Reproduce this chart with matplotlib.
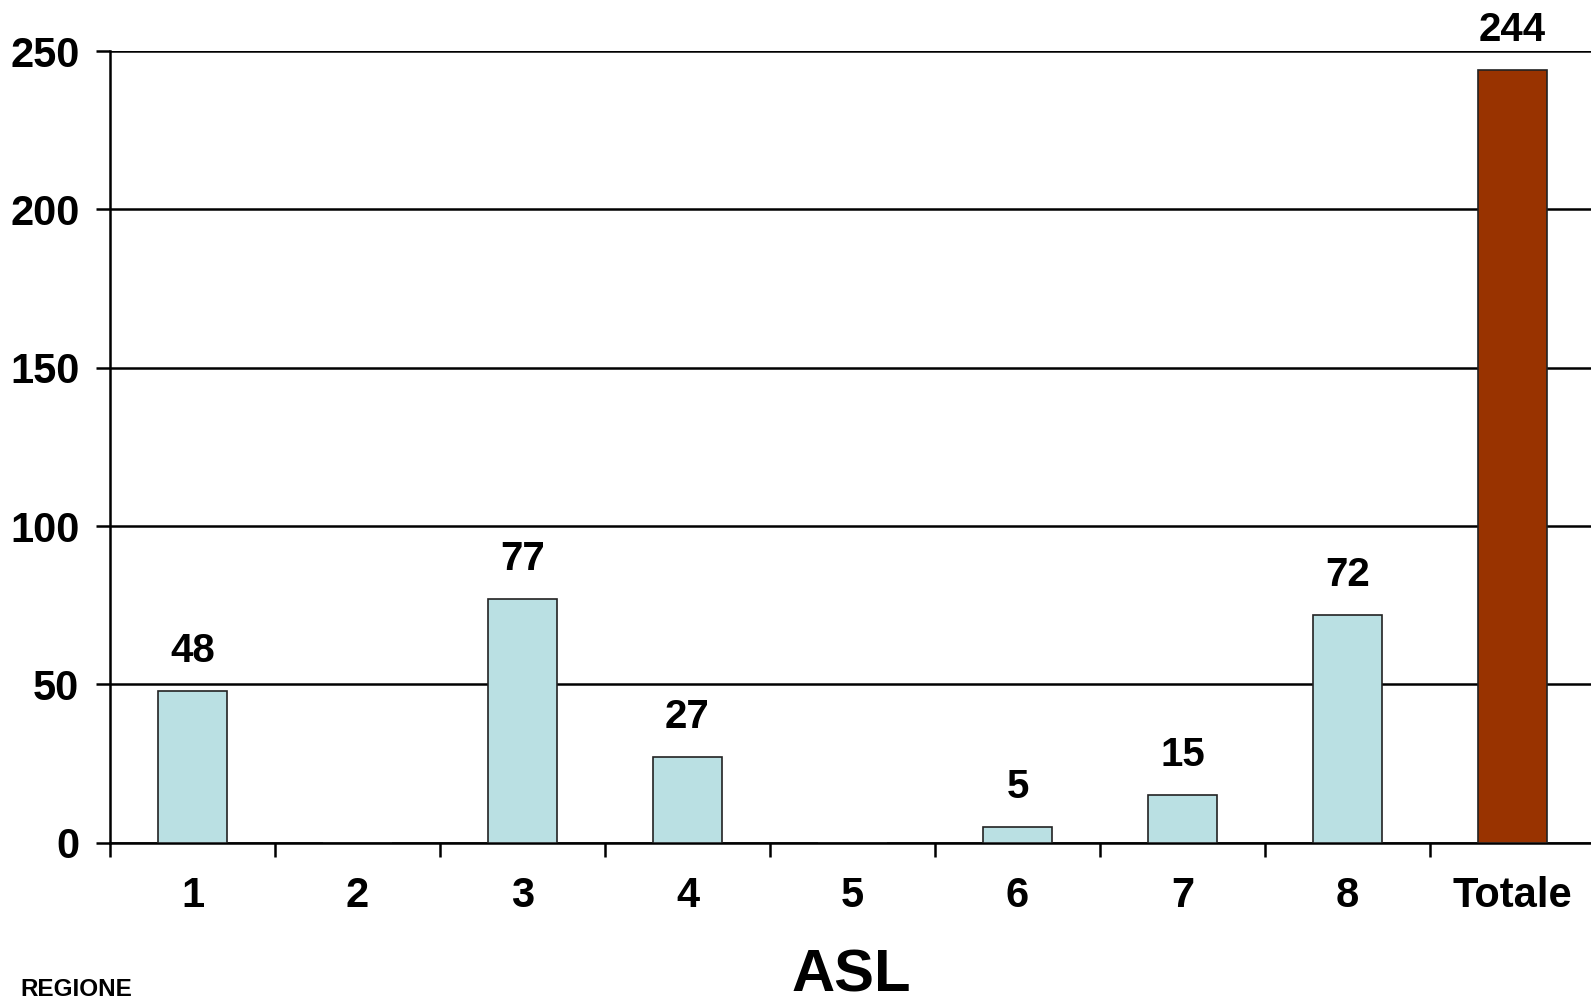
import numpy as np
import matplotlib
matplotlib.use('Agg')
import matplotlib.pyplot as plt

# Data
categories = ['1', '2', '3', '4', '5', '6', '7', '8', 'Totale']
values = [48, 0, 77, 27, 0, 5, 15, 72, 244]
bar_colors = ['#BAE0E3'] * 8 + ['#993300']
y_ticks = [0, 50, 100, 150, 200, 250]

plt.rcParams['font.family'] = ['Liberation Sans', 'DejaVu Sans']
plt.rcParams['font.weight'] = 'bold'

fig = plt.figure(figsize=(15.91, 10.06), dpi=100)
ax = fig.add_axes([0.0691, 0.1623, 0.9309, 0.7870])

x = np.arange(len(categories))
ax.bar(x, values, width=0.415, color=bar_colors, edgecolor='#222222',
       linewidth=1.2, zorder=3)

# value labels (zero bars are left unlabelled)
for xi, v in zip(x, values):
    if v > 0:
        ax.annotate(str(v), (xi, v), xytext=(0, 15), textcoords='offset points',
                    ha='center', va='bottom', fontsize=29, fontweight='bold')

ax.set_ylim(0, 250)
ax.set_xlim(-0.5, -0.5 + (1591 - 110) / 165)
ax.set_yticks(y_ticks)
ax.set_xticks(x)
ax.set_xticklabels(categories)

# category separators as minor ticks
ax.set_xticks(np.arange(-0.5, len(categories) - 0.5, 1), minor=True)
ax.tick_params(axis='x', which='major', length=0, pad=24, labelsize=30)
ax.tick_params(axis='x', which='minor', length=10, width=1.8, direction='out')
ax.tick_params(axis='y', length=10, width=1.8, pad=12, labelsize=30)

ax.grid(axis='y', color='black', linewidth=1.8, zorder=0)
for s in ['top', 'right']:
    ax.spines[s].set_visible(False)
ax.spines['left'].set_linewidth(1.8)
ax.spines['bottom'].set_linewidth(1.8)

fig.text(851 / 1591, 1 - 991 / 1006, 'ASL', ha='center', va='baseline',
         fontsize=43, fontweight='bold')
fig.text(20 / 1591, 1 - 990 / 1006, 'REGIONE', ha='left', va='center',
         fontsize=17.5, fontweight='bold')

fig.savefig('out.png', dpi=100)
